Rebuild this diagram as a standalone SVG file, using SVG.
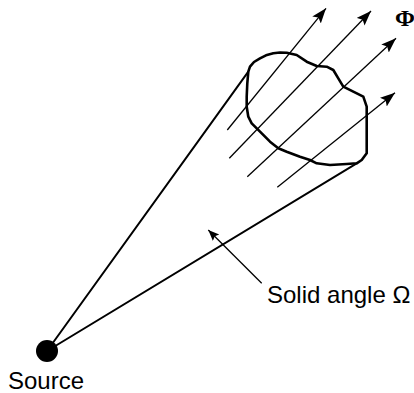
<svg xmlns="http://www.w3.org/2000/svg" width="414" height="393" viewBox="0 0 414 393">
<style>
.cone{stroke:#000;stroke-width:2;fill:none;stroke-linecap:round}
.ray{stroke:#000;stroke-width:1.3;fill:none;marker-end:url(#ah)}
.blob{stroke:#000;stroke-width:2.6;fill:none;stroke-linejoin:round}
.lbl{font-family:"Liberation Sans",Arial,sans-serif;font-size:24px;fill:#000}
.phi{font-family:"Liberation Serif","Times New Roman",serif;font-weight:bold;font-size:24px;fill:#000}
</style>
<defs>
<marker id="ah" markerUnits="userSpaceOnUse" markerWidth="16" markerHeight="12" refX="15" refY="5.5" orient="auto">
<path d="M0,0 L15,5.5 L0,11 L3,5.5 z" fill="#000"/>
</marker>
<marker id="ah2" markerUnits="userSpaceOnUse" markerWidth="12" markerHeight="10" refX="11" refY="4.5" orient="auto">
<path d="M0,0 L11,4.5 L0,9 L2,4.5 z" fill="#000"/>
</marker>
</defs>
<g id="connectors">
<line class="cone" x1="47" y1="351" x2="248.3" y2="71.7"/>
<line class="cone" x1="47" y1="351" x2="356.7" y2="163.3"/>
<line class="ray" x1="227.3" y1="130" x2="326" y2="8.3"/>
<line class="ray" x1="229.3" y1="158.3" x2="371" y2="11"/>
<line class="ray" x1="247.3" y1="176.7" x2="396" y2="38.3"/>
<line class="ray" x1="277.3" y1="187.3" x2="395" y2="92.7"/>
<line x1="261.7" y1="283.3" x2="208.3" y2="230" stroke="#000" stroke-width="1.3" marker-end="url(#ah2)"/>
</g>
<g id="area">
<path class="blob" d="M248.3,71.7 L250,66.7 L254,62 L260,58.3 L266,55.3 L273.3,53.3 L280,52.5 L286.7,52.7 L296.7,55 L306.7,61.7 L316.7,66 L326.7,66.7 L333.3,70 L338.3,78.3 L343.3,86.7 L353.3,91.7 L363.3,96.7 L366.7,106.7 L366.7,115 L366.7,133.3 L366.7,153.3 L361.7,160 L356.7,163.3 L346.7,164 L330,165 L316.7,163.3 L310,160 L300,156.7 L286.7,151.7 L278.3,148.3 L270,141.7 L260,131.7 L251.7,123.3 L248.3,116.7 L246.7,106.7 L246.7,96.7 L247.3,83.3 Z"/>
</g>
<g id="source">
<circle cx="47" cy="351" r="11" fill="#000"/>
<text class="lbl" x="8" y="389">Source</text>
</g>
<g id="solid-angle-label">
<text class="lbl" x="267" y="303">Solid angle Ω</text>
</g>
<g id="flux-label">
<text class="phi" x="395" y="26">Φ</text>
</g>
</svg>
